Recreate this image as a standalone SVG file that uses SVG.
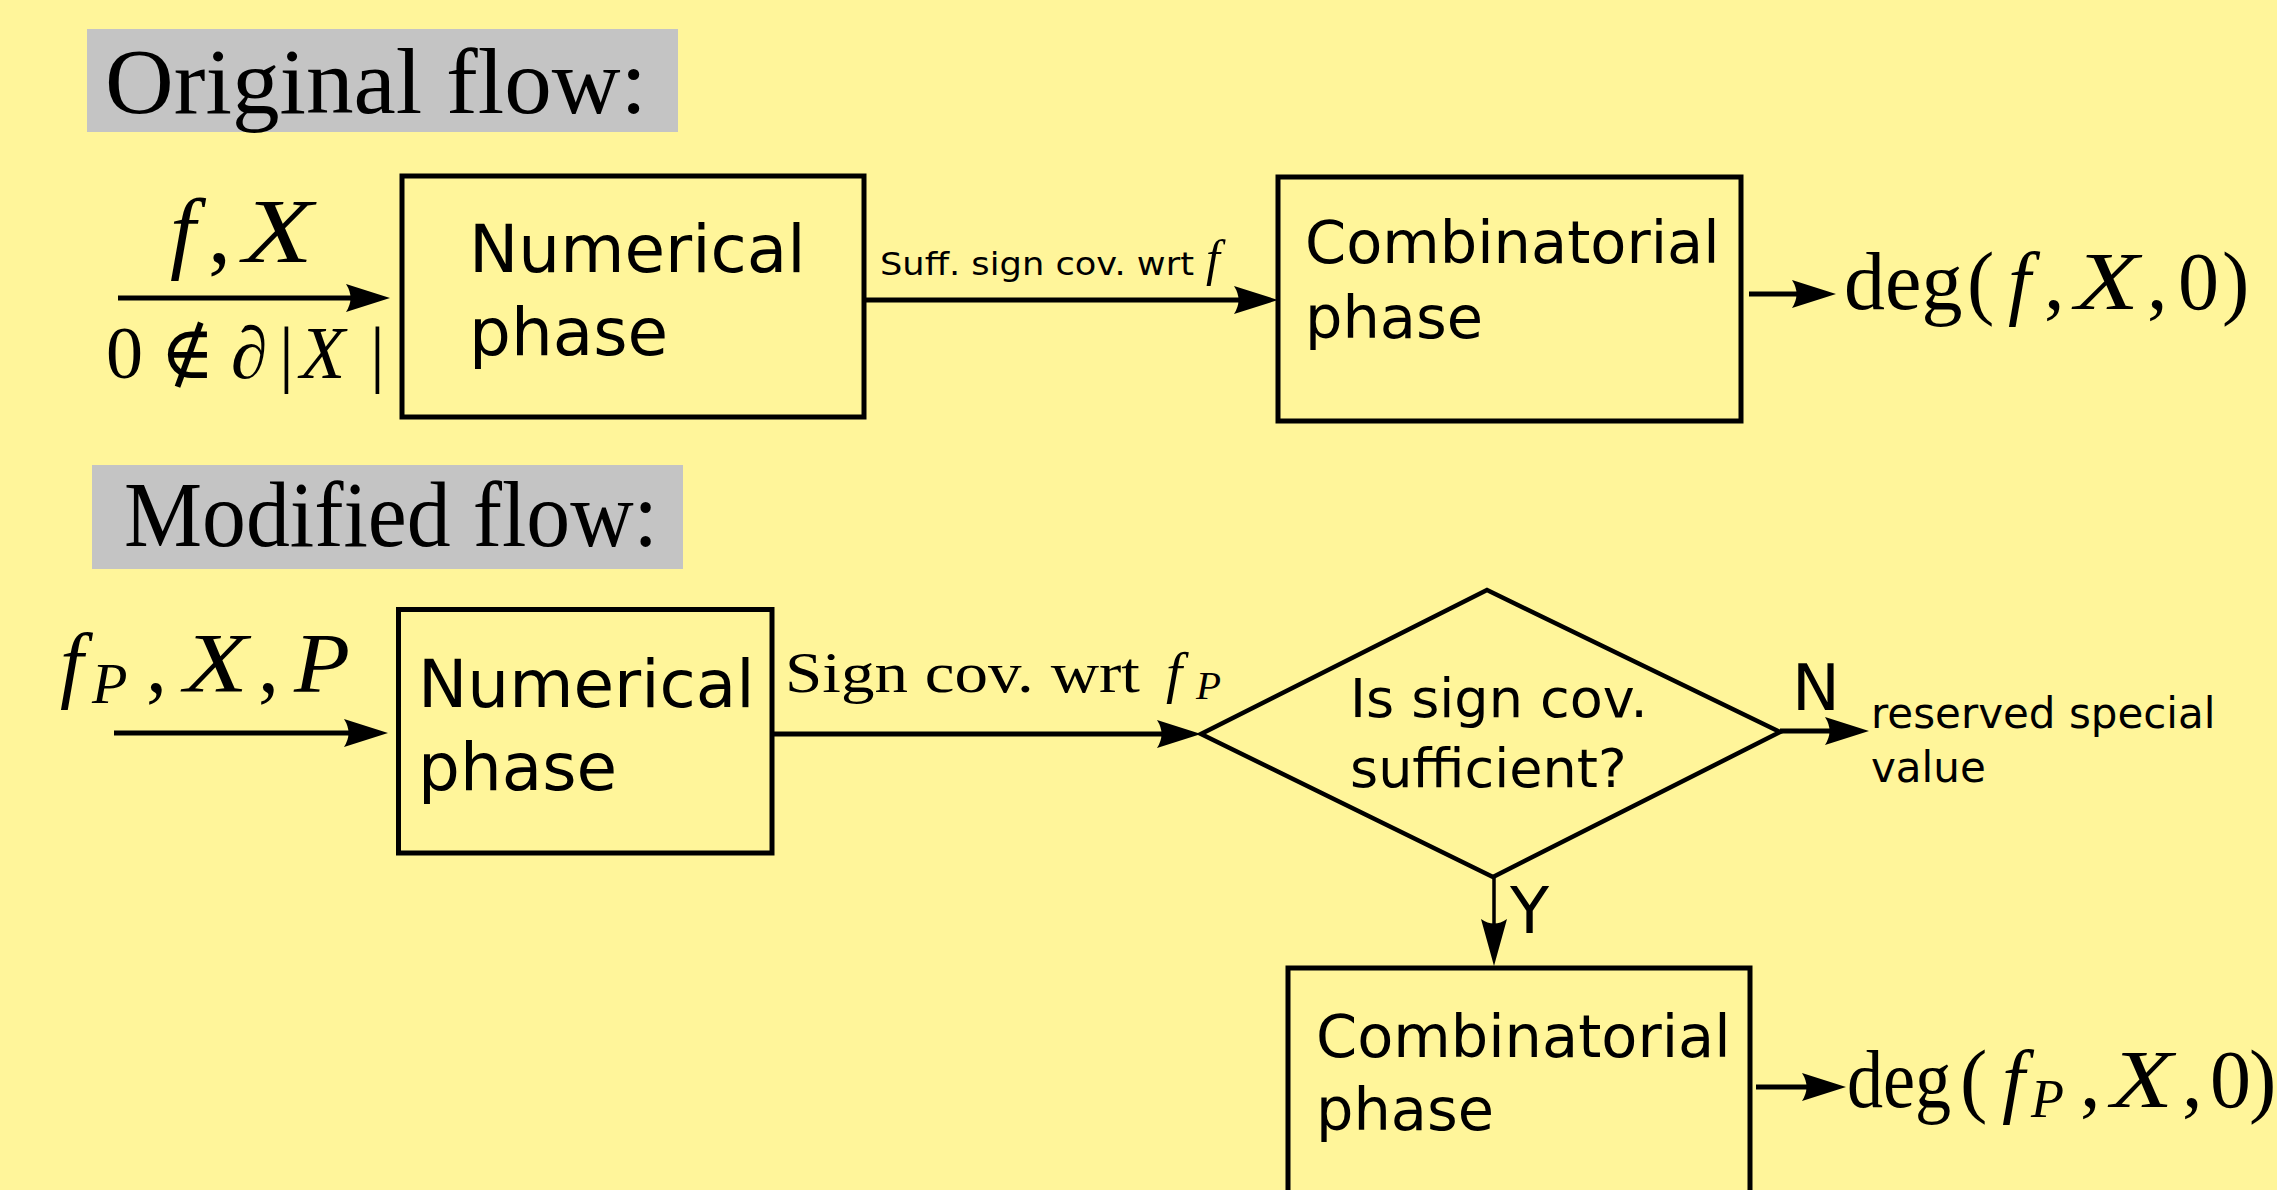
<svg xmlns="http://www.w3.org/2000/svg" width="2277" height="1190" viewBox="0 0 2277 1190">
<defs>
<style>
.box{fill:none;stroke:#000;stroke-width:5}
.sans{font-family:"DejaVu Sans","Liberation Sans",sans-serif;fill:#000}
.serif{font-family:"Liberation Serif","DejaVu Serif",serif;fill:#000}
.it{font-style:italic}
.up{font-style:normal}
.conn{stroke:#000;stroke-width:5;fill:none}
.thin{stroke:#000;stroke-width:3.5;fill:none}
.title{fill:#c4c4c4}
</style>
<marker id="ah" markerUnits="userSpaceOnUse" orient="auto" viewBox="-20 -20 60 40" markerWidth="60" markerHeight="40" refX="0" refY="0">
<path d="M30,0 L-14,-14 Q-5,0 -14,14 Z" fill="#000"/>
</marker>
<marker id="ahs" markerUnits="userSpaceOnUse" orient="auto" viewBox="-20 -20 60 40" markerWidth="60" markerHeight="40" refX="0" refY="0">
<path d="M32,0 L-15,-13 Q-6,0 -15,13 Z" fill="#000"/>
</marker>
</defs>
<rect x="0" y="0" width="2277" height="1190" fill="#fff59a"/>

<g id="title-original">
<rect class="title" x="87" y="29" width="591" height="103"/>
<text class="serif" x="105" y="113" font-size="93" textLength="542" lengthAdjust="spacingAndGlyphs">Original flow:</text>
</g>

<g id="title-modified">
<rect class="title" x="92" y="465" width="591" height="104"/>
<text class="serif" x="124" y="546" font-size="93" textLength="534" lengthAdjust="spacingAndGlyphs">Modified flow:</text>
</g>

<g id="numerical-1">
<rect class="box" x="402" y="176" width="462" height="241"/>
<text class="sans" font-size="66"><tspan x="469" y="272">Numerical</tspan><tspan x="469" y="355">phase</tspan></text>
</g>

<g id="combinatorial-1">
<rect class="box" x="1278" y="177" width="463" height="244"/>
<text class="sans" font-size="59"><tspan x="1305" y="263">Combinatorial</tspan><tspan x="1305" y="338">phase</tspan></text>
</g>

<g id="numerical-2">
<rect class="box" x="398.5" y="609.5" width="373.5" height="243.5"/>
<text class="sans" font-size="66"><tspan x="418" y="707">Numerical</tspan><tspan x="418" y="790">phase</tspan></text>
</g>

<g id="decision">
<polygon points="1487,590 1780,732 1493,877 1201,734" fill="none" stroke="#000" stroke-width="4.5" stroke-linejoin="miter"/>
<text class="sans" font-size="54"><tspan x="1350" y="717">Is sign cov.</tspan><tspan x="1350" y="787">sufficient?</tspan></text>
</g>

<g id="combinatorial-2">
<rect class="box" x="1288" y="968" width="462" height="260"/>
<text class="sans" font-size="59"><tspan x="1316" y="1057">Combinatorial</tspan><tspan x="1316" y="1130">phase</tspan></text>
</g>

<g id="connectors">
<line class="conn" x1="118" y1="298" x2="360" y2="298" marker-end="url(#ah)"/>
<line class="conn" x1="866" y1="300" x2="1248" y2="300" marker-end="url(#ah)"/>
<line class="conn" x1="1749" y1="294" x2="1806" y2="294" marker-end="url(#ah)"/>
<line class="conn" x1="114" y1="733" x2="358" y2="733" marker-end="url(#ah)"/>
<line class="conn" x1="774" y1="734" x2="1171" y2="734" marker-end="url(#ah)"/>
<line class="conn" x1="1780" y1="731" x2="1839" y2="731" marker-end="url(#ah)"/>
<line class="thin" x1="1494" y1="877" x2="1494" y2="934" marker-end="url(#ahs)"/>
<line class="conn" x1="1756" y1="1087" x2="1816" y2="1087" marker-end="url(#ah)"/>
</g>

<g id="label-input-1">
<text class="serif it" font-size="92" x="170" y="262">f</text>
<text class="serif" font-size="92" x="208" y="262">,</text>
<text class="serif it" font-size="92" x="243" y="262" textLength="70" lengthAdjust="spacingAndGlyphs">X</text>
<text class="serif" font-size="74" y="378"><tspan x="106">0</tspan><tspan x="160">∉</tspan><tspan x="231">∂</tspan><tspan x="279">|</tspan><tspan class="it" x="300">X</tspan><tspan x="370">|</tspan></text>
</g>

<g id="label-suff">
<text class="sans" font-size="32.5" x="880" y="275" textLength="314" lengthAdjust="spacingAndGlyphs">Suff. sign cov. wrt</text>
<text class="serif it" font-size="50" x="1206" y="275">f</text>
</g>

<g id="label-output-1">
<text class="serif" font-size="82" x="1844" y="309">deg</text>
<text class="serif" font-size="82" x="1967" y="309">(</text>
<text class="serif it" font-size="82" x="2008" y="309">f</text>
<text class="serif" font-size="82" x="2044" y="309">,</text>
<text class="serif it" font-size="82" x="2075" y="309" textLength="64" lengthAdjust="spacingAndGlyphs">X</text>
<text class="serif" font-size="82" x="2147" y="309">,</text>
<text class="serif" font-size="82" x="2178" y="309">0</text>
<text class="serif" font-size="82" x="2222" y="309">)</text>
</g>

<g id="label-input-2">
<text class="serif it" font-size="84" x="60" y="692">f</text>
<text class="serif it" font-size="58" x="92" y="703">P</text>
<text class="serif" font-size="84" x="146" y="692">,</text>
<text class="serif it" font-size="84" x="184" y="692" textLength="64" lengthAdjust="spacingAndGlyphs">X</text>
<text class="serif" font-size="84" x="258" y="692">,</text>
<text class="serif it" font-size="84" x="294" y="692" textLength="56" lengthAdjust="spacingAndGlyphs">P</text>
</g>

<g id="label-sign">
<text class="serif" font-size="58" x="785" y="692" textLength="355" lengthAdjust="spacingAndGlyphs">Sign cov. wrt</text>
<text class="serif it" font-size="58" x="1166" y="692">f</text>
<text class="serif it" font-size="41" x="1196" y="699">P</text>
</g>

<g id="label-decision">
<text class="sans" font-size="64" x="1792" y="710">N</text>
<text class="sans" font-size="42"><tspan x="1871" y="728">reserved special</tspan><tspan x="1871" y="782">value</tspan></text>
<text class="sans" font-size="64" x="1510" y="933">Y</text>
</g>

<g id="label-output-2">
<text class="serif" font-size="82" transform="translate(1847,1107) scale(0.88,1)">deg</text>
<text class="serif" font-size="82" x="1960" y="1107">(</text>
<text class="serif it" font-size="82" x="2002" y="1107">f</text>
<text class="serif it" font-size="54" x="2031" y="1117">P</text>
<text class="serif" font-size="82" x="2080" y="1107">,</text>
<text class="serif it" font-size="82" x="2111" y="1107" textLength="62" lengthAdjust="spacingAndGlyphs">X</text>
<text class="serif" font-size="82" x="2182" y="1107">,</text>
<text class="serif" font-size="82" x="2210" y="1107">0</text>
<text class="serif" font-size="82" x="2249" y="1107">)</text>
</g>
</svg>
